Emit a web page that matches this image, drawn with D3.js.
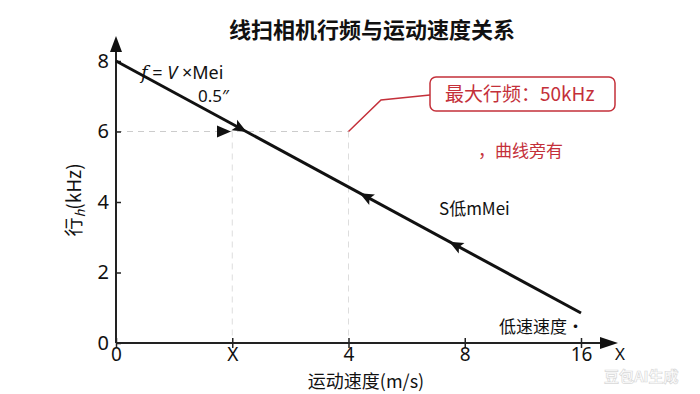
<!DOCTYPE html>
<html>
<head>
<meta charset="utf-8">
<script src="https://cdn.jsdelivr.net/npm/d3@7"></script>
<style>
  body { margin: 0; background: #fff; }
  svg { font-family: "Noto Sans CJK SC", "Noto Sans", sans-serif; }
</style>
</head>
<body>
<svg width="700" height="394"></svg>
<script>
// axis categories (evenly spaced on the drawing)
var xLabels = ["0", "X", "4", "8", "16"];
var yTicks = [0, 2, 4, 6, 8];

// the frequency line: category index -> kHz
var lineIdx = [0, 4];
var lineVal = [8, 0.85];

// arrows drawn on the line (position as index along x, direction)
var arrowIdx = [1.07, 2.15, 2.92];
var arrowDir = [1, -1, -1];

// guide lines
var guideY = 6;
var guideX = [1, 2];

var svg = d3.select("svg");

var x = d3.scaleLinear().domain([0, 4]).range([116, 581]);
var y = d3.scaleLinear().domain([0, 8]).range([343, 61]);

// title
svg.append("text")
  .attr("x", 372).attr("y", 38)
  .attr("text-anchor", "middle")
  .attr("font-size", 22).attr("font-weight", "bold")
  .attr("fill", "#111")
  .text("线扫相机行频与运动速度关系");

// dashed guides
svg.append("line")
  .attr("x1", x(0)).attr("x2", x(2))
  .attr("y1", y(guideY)).attr("y2", y(guideY))
  .attr("stroke", "#ccc").attr("stroke-dasharray", "6,5").attr("stroke-width", 1);
guideX.forEach(function(g){
  svg.append("line")
    .attr("x1", x(g)).attr("x2", x(g))
    .attr("y1", y(guideY)).attr("y2", y(0))
    .attr("stroke", "#ddd").attr("stroke-dasharray", "6,5").attr("stroke-width", 1);
});

// axes
var yAxis = svg.append("g")
  .attr("transform", "translate(" + x(0) + ",0)")
  .call(d3.axisLeft(y).tickValues(yTicks).tickSize(5).tickSizeOuter(0));
var xAxis = svg.append("g")
  .attr("transform", "translate(0," + y(0) + ")")
  .call(d3.axisBottom(x).tickValues([0, 1, 2, 3, 4]).tickFormat(function(d){ return xLabels[d]; }).tickSize(5).tickSizeOuter(0));

yAxis.select(".domain").remove();
xAxis.select(".domain").remove();
yAxis.selectAll(".tick line").attr("x2", 5).attr("stroke", "#222").attr("stroke-width", 1.5);
xAxis.selectAll(".tick line").attr("y1", -5).attr("stroke", "#222").attr("stroke-width", 1.5);
yAxis.selectAll(".tick text").attr("font-size", 20).attr("fill", "#111").attr("x", -7).attr("font-family", "Noto Sans, sans-serif");
xAxis.selectAll(".tick text").attr("font-size", 19).attr("fill", "#111").attr("y", 1).attr("dy", "0.9em").attr("font-family", "Noto Sans, sans-serif");

// axis lines with arrow heads
svg.append("line")
  .attr("x1", x(0)).attr("x2", x(0)).attr("y1", y(0)).attr("y2", 48)
  .attr("stroke", "#222").attr("stroke-width", 2);
svg.append("path")
  .attr("d", "M" + x(0) + ",36 L" + (x(0) - 6) + ",52 L" + (x(0) + 6) + ",52 Z")
  .attr("fill", "#111");
svg.append("line")
  .attr("x1", x(0)).attr("x2", 605).attr("y1", y(0)).attr("y2", y(0))
  .attr("stroke", "#222").attr("stroke-width", 2);
svg.append("path")
  .attr("d", "M618," + y(0) + " L600," + (y(0) - 6) + " L600," + (y(0) + 6) + " Z")
  .attr("fill", "#111");
svg.append("text")
  .attr("x", 620).attr("y", 360)
  .attr("text-anchor", "middle").attr("font-size", 17).attr("fill", "#111")
  .attr("font-family", "Noto Sans, sans-serif")
  .text("X");

// axis titles
svg.append("text")
  .attr("x", 366).attr("y", 388)
  .attr("text-anchor", "middle").attr("font-size", 18).attr("fill", "#111")
  .text("运动速度(m/s)");
var yl = svg.append("text")
  .attr("transform", "translate(81,200) rotate(-90)")
  .attr("text-anchor", "middle").attr("font-size", 19).attr("fill", "#111");
yl.append("tspan").text("行");
yl.append("tspan").attr("font-size", 13).attr("font-style", "italic").attr("dy", 4).text("h");
yl.append("tspan").attr("dy", -4).text("(kHz)");

// main line
var pts = lineIdx.map(function(d, i){ return [x(d), y(lineVal[i])]; });
svg.append("path")
  .attr("d", d3.line()(pts))
  .attr("fill", "none").attr("stroke", "#111").attr("stroke-width", 3);

// arrows along the line
var ang = Math.atan2(pts[1][1] - pts[0][1], pts[1][0] - pts[0][0]) * 180 / Math.PI;
function valAt(t){ return lineVal[0] + (lineVal[1] - lineVal[0]) * (t - lineIdx[0]) / (lineIdx[1] - lineIdx[0]); }
arrowIdx.forEach(function(t, i){
  svg.append("path")
    .attr("d", "M7,0 L-7,-6 L-4,0 L-7,6 Z")
    .attr("fill", "#111")
    .attr("transform", "translate(" + x(t) + "," + y(valAt(t)) + ") rotate(" + (arrowDir[i] > 0 ? ang : ang + 180) + ")");
});
// small arrow on the 6 kHz guide
svg.append("path")
  .attr("d", "M0,0 L-14,-6 L-14,6 Z")
  .attr("fill", "#111")
  .attr("transform", "translate(231," + y(guideY) + ")");

// formula annotation
var f1 = svg.append("text")
  .attr("x", 141).attr("y", 79).attr("font-size", 18).attr("fill", "#111")
  .attr("font-family", "Noto Sans, sans-serif");
f1.append("tspan").attr("font-style", "italic").attr("font-family", "DejaVu Serif, serif").text("f");
f1.append("tspan").text(" = ");
f1.append("tspan").attr("font-style", "italic").text("V");
f1.append("tspan").text(" ×Mei");
svg.append("text")
  .attr("x", 198).attr("y", 102).attr("font-size", 17).attr("fill", "#111")
  .attr("font-family", "Noto Sans, sans-serif")
  .text("0.5″");

svg.append("text")
  .attr("x", 439).attr("y", 215).attr("font-size", 17).attr("fill", "#111")
  .text("S低mMei");
svg.append("text")
  .attr("x", 499).attr("y", 333).attr("font-size", 17).attr("fill", "#111")
  .text("低速速度·");

// red callout
var red = "#c4303a";
svg.append("path")
  .attr("d", "M" + x(2) + "," + y(guideY) + " L381,100 L430,95")
  .attr("fill", "none").attr("stroke", red).attr("stroke-width", 1.5);
svg.append("rect")
  .attr("x", 430).attr("y", 77).attr("width", 185).attr("height", 34)
  .attr("rx", 6).attr("fill", "#fff").attr("stroke", red).attr("stroke-width", 1.5);
svg.append("text")
  .attr("x", 445).attr("y", 101).attr("font-size", 19).attr("fill", red)
  .text("最大行频：50kHz");
svg.append("text")
  .attr("x", 478).attr("y", 157).attr("font-size", 17).attr("fill", red)
  .text("，曲线旁有");

// watermark
svg.append("text")
  .attr("x", 604).attr("y", 382).attr("font-size", 15).attr("font-weight", "bold")
  .attr("fill", "#fff").attr("stroke", "#d8d8d8").attr("stroke-width", 0.7)
  .text("豆包AI生成");
</script>
</body>
</html>
